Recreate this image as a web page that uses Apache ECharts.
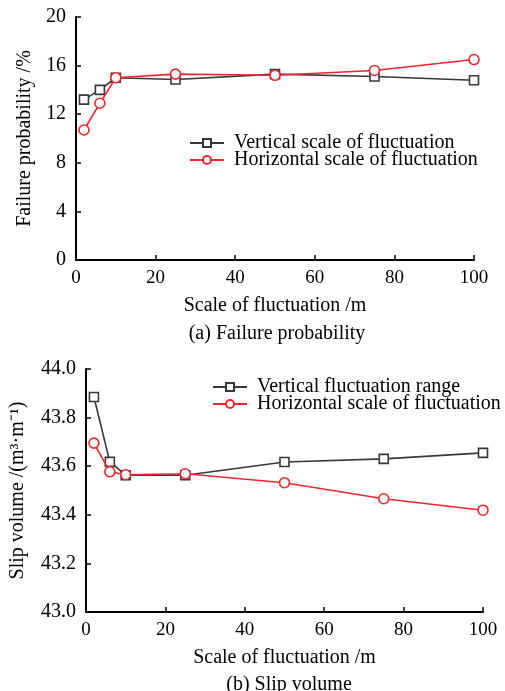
<!DOCTYPE html>
<html>
<head>
<meta charset="utf-8">
<script src="https://cdn.jsdelivr.net/npm/echarts@6/dist/echarts.min.js"></script>
<style>
html,body{margin:0;padding:0;background:#fff;}
#chart{width:505px;height:691px;}
</style>
</head>
<body>
<div id="chart"></div>
<script>
// Scale of fluctuation (m) at which each case was computed
const scales = [2, 6, 10, 25, 50, 75, 100];

// (a) Failure probability, %
const failVertical = [13.2, 14.0, 15.0, 14.85, 15.3, 15.1, 14.8];
const failHorizontal = [10.7, 12.9, 15.0, 15.3, 15.2, 15.6, 16.5];

// (b) Slip volume, m3/m
const slipVertical = [43.885, 43.618, 43.563, 43.563, 43.617, 43.630, 43.655];
const slipHorizontal = [43.695, 43.577, 43.565, 43.569, 43.532, 43.466, 43.419];

const FONT = '"Liberation Serif", "Times New Roman", serif';
const BLACK = '#383838';
const RED = '#f0262e';

function pairs(xs, ys) { return xs.map((x, i) => [x, ys[i]]); }

function xAxisDef(gridIndex) {
  return {
    type: 'value', gridIndex, min: 0, max: 100, interval: 20,
    name: 'Scale of fluctuation /m', nameLocation: 'middle', nameGap: 36,
    nameTextStyle: { fontFamily: FONT, fontSize: 20, color: '#000' },
    axisLine: { show: true, lineStyle: { color: '#000', width: 2 } },
    axisTick: { show: true, inside: true, length: 5, lineStyle: { color: '#000', width: 1.5 } },
    axisLabel: { fontFamily: FONT, fontSize: 19, color: '#000', margin: 9 },
    splitLine: { show: false }
  };
}

function yAxisDef(gridIndex, min, max, interval, name, decimals, gap) {
  return {
    type: 'value', gridIndex, min, max, interval,
    name, nameLocation: 'middle', nameGap: gap, nameRotate: 90,
    nameTextStyle: { fontFamily: FONT, fontSize: 20, color: '#000' },
    axisLine: { show: true, lineStyle: { color: '#000', width: 2 } },
    axisTick: { show: true, inside: true, length: 5, lineStyle: { color: '#000', width: 1.5 } },
    axisLabel: { fontFamily: FONT, fontSize: 20, color: '#000', margin: 10,
      formatter: v => v.toFixed(decimals) },
    splitLine: { show: false }
  };
}

function lineSeries(name, data, idx, color, symbol) {
  return {
    name, type: 'line', xAxisIndex: idx, yAxisIndex: idx,
    data, symbol, symbolSize: symbol === 'circle' ? 10 : 9,
    showAllSymbol: true,
    lineStyle: { color, width: 1.6 },
    itemStyle: { color: '#fff', borderColor: color, borderWidth: 1.6 },
    emphasis: { disabled: true },
    animation: false, z: symbol === 'circle' ? 3 : 2
  };
}

const legendText = { fontFamily: FONT, fontSize: 20, color: '#000', padding: [0, 0, 0, 5] };

const chart = echarts.init(document.getElementById('chart'), null, { renderer: 'canvas' });
chart.setOption({
  backgroundColor: '#fff',
  animation: false,
  grid: [
    { left: 76, top: 17, width: 398, height: 243 },
    { left: 85, top: 369, width: 398, height: 243 }
  ],
  title: [
    { text: '(a) Failure probability', left: 272, top: 319, textAlign: 'center',
      textStyle: { fontFamily: FONT, fontSize: 20, fontWeight: 'normal', color: '#000' } },
    { text: '(b) Slip volume', left: 284, top: 670, textAlign: 'center',
      textStyle: { fontFamily: FONT, fontSize: 20, fontWeight: 'normal', color: '#000' } }
  ],
  legend: [
    { data: ['Vertical scale of fluctuation', 'Horizontal scale of fluctuation'],
      left: 189, top: 133, padding: 0, orient: 'vertical', itemGap: -3, itemWidth: 34, itemHeight: 10,
      textStyle: legendText, selectedMode: false },
    { data: ['Vertical fluctuation range', 'Horizontal scale of fluctuation'],
      left: 212, top: 377, padding: 0, orient: 'vertical', itemGap: -3, itemWidth: 34, itemHeight: 10,
      textStyle: legendText, selectedMode: false }
  ],
  xAxis: [xAxisDef(0), xAxisDef(1)],
  yAxis: [
    yAxisDef(0, 0, 20, 4, 'Failure probability /%', 0, 37),
    yAxisDef(1, 43.0, 44.0, 0.2, 'Slip volume /(m\u00b3\u00b7m\u207b\u00b9)', 1, 58)
  ],
  series: [
    lineSeries('Vertical scale of fluctuation', pairs(scales, failVertical), 0, BLACK, 'rect'),
    lineSeries('Horizontal scale of fluctuation', pairs(scales, failHorizontal), 0, RED, 'circle'),
    lineSeries('Vertical fluctuation range', pairs(scales, slipVertical), 1, BLACK, 'rect'),
    lineSeries('Horizontal scale of fluctuation', pairs(scales, slipHorizontal), 1, RED, 'circle')
  ]
});
</script>
</body>
</html>
